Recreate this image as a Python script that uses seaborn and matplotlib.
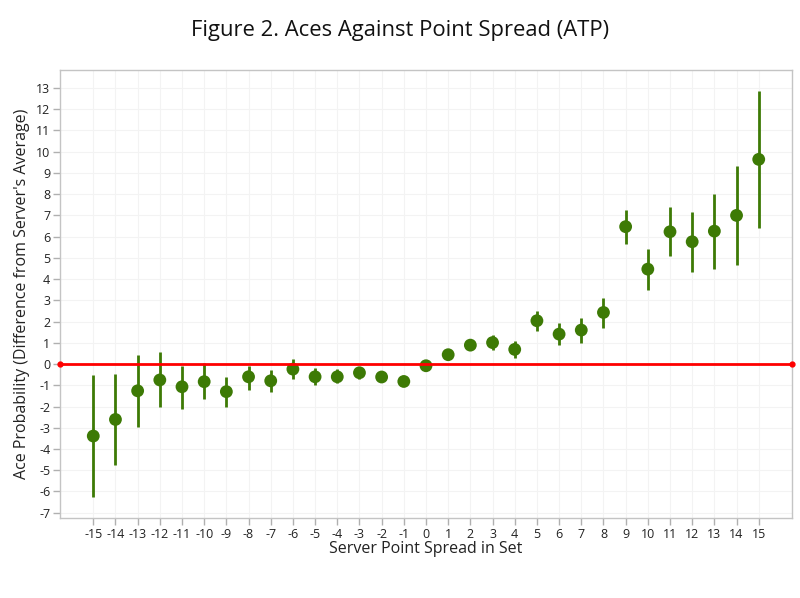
import matplotlib
matplotlib.use("Agg")
import matplotlib.pyplot as plt
import seaborn as sns
import numpy as np
import pandas as pd

spread = list(range(-15, 16))
ace_mean = [-3.39, -2.61, -1.26, -0.75, -1.07, -0.83, -1.30, -0.60, -0.79, -0.24,
            -0.60, -0.60, -0.41, -0.61, -0.82, -0.08, 0.44, 0.89, 1.01, 0.69,
            2.04, 1.41, 1.60, 2.43, 6.47, 4.47, 6.23, 5.76, 6.26, 7.00, 9.64]
ace_low = [-6.28, -4.76, -2.95, -2.04, -2.12, -1.66, -2.01, -1.22, -1.33, -0.71,
           -0.99, -0.91, -0.71, -0.82, -1.00, -0.20, 0.30, 0.70, 0.65, 0.27,
           1.57, 0.89, 1.00, 1.72, 5.65, 3.50, 5.07, 4.32, 4.49, 4.65, 6.39]
ace_high = [-0.52, -0.47, 0.42, 0.55, -0.08, 0.03, -0.60, -0.08, -0.28, 0.22,
            -0.17, -0.24, -0.13, -0.40, -0.65, 0.02, 0.60, 1.12, 1.37, 1.08,
            2.51, 1.92, 2.18, 3.12, 7.25, 5.43, 7.40, 7.17, 8.01, 9.33, 12.88]

df = pd.DataFrame({"spread": spread, "mean": ace_mean, "low": ace_low, "high": ace_high})

sns.set_theme(style="white")
plt.rcParams['font.family'] = ['Open Sans', 'DejaVu Sans']

fig = plt.figure(figsize=(8, 5.98), dpi=100)
ax = fig.add_axes([0.075, 0.1338, 0.915, 0.7492])

green = "#3d7a05"
ax.vlines(df["spread"], df["low"], df["high"], color=green, linewidth=2.0, zorder=3)
sns.scatterplot(data=df, x="spread", y="mean", color=green, s=85, edgecolor="none",
                ax=ax, zorder=4, legend=False)

xlim = (-16.5, 16.5)
ax.set_xlim(*xlim)
ax.set_ylim(-7.25, 13.85)
ax.plot(list(xlim), [0, 0], color="#ff0000", linewidth=2.0, marker="o", markersize=3.5,
        clip_on=False, zorder=5)

ax.set_xticks(spread)
ax.set_xticklabels([str(v) for v in spread])
yt = list(range(-7, 14))
ax.set_yticks(yt)
ax.set_yticklabels([str(v) for v in yt])
ax.grid(True, color="#f3f3f3", linewidth=0.8)
ax.set_axisbelow(True)
for s in ax.spines.values():
    s.set_color("#c4c4c4")
    s.set_linewidth(1.0)
ax.tick_params(axis="both", direction="out", length=5, width=1, color="#b0b0b0",
               labelsize=9, labelcolor="#222222", bottom=True, left=True, pad=2)

ax.set_xlabel("Server Point Spread in Set", fontsize=11.5, color="#222222", labelpad=0)
ax.set_ylabel("Ace Probability (Difference from Server's Average)", fontsize=11.5,
              color="#222222", labelpad=4)
fig.suptitle("Figure 2. Aces Against Point Spread (ATP)", fontsize=15.8, color="#111111",
             y=0.967)

fig.savefig("out.png", dpi=100)
